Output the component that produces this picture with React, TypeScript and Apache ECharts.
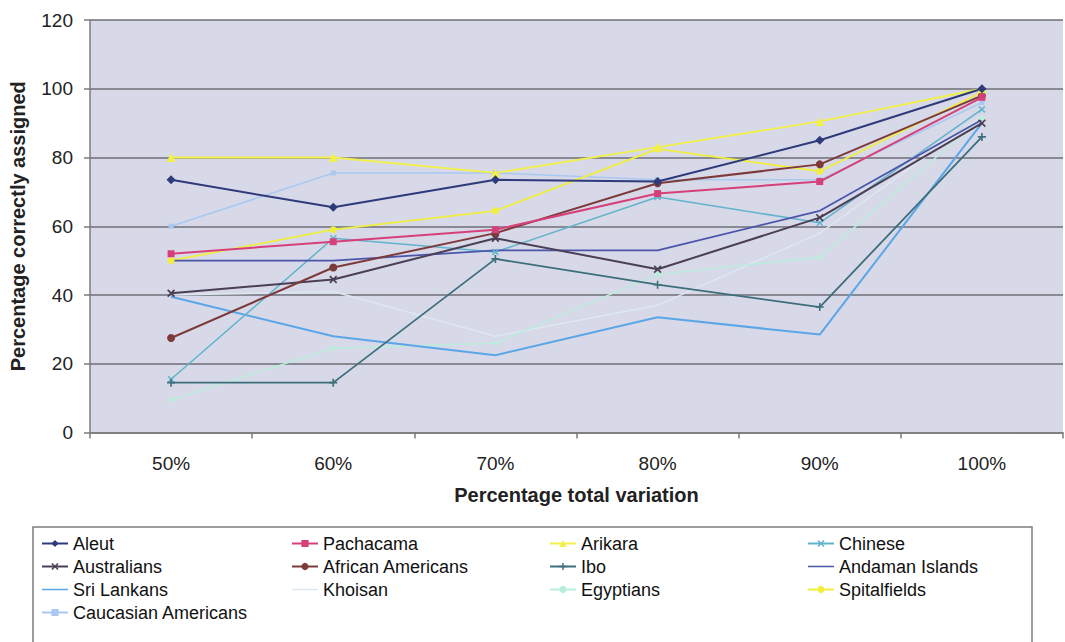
import React, { useEffect, useRef } from "react";
import * as echarts from "echarts";

const categories = ["50%", "60%", "70%", "80%", "90%", "100%"];
const yTicks = { min: 0, max: 120, step: 20 };

const aleut = [73.5, 65.5, 73.5, 73, 85, 100];
const pachacama = [52, 55.5, 59, 69.5, 73, 97.5];
const arikara = [80, 80, 75.5, 83, 90.5, 100];
const chinese = [15.5, 56.5, 52.5, 68.5, 61, 94];
const australians = [40.5, 44.5, 56.5, 47.5, 62.5, 90];
const africanAmericans = [27.5, 48, 58, 72.5, 78, 98];
const ibo = [14.5, 14.5, 50.5, 43, 36.5, 86];
const andamanIslands = [50, 50, 53, 53, 64.5, 91];
const sriLankans = [39.5, 28, 22.5, 33.5, 28.5, 90];
const khoisan = [40, 41, 28, 37, 58, 92];
const egyptians = [9.5, 24.5, 26, 46, 51, 91.5];
const spitalfields = [50, 59, 64.5, 82.5, 76, 99];
const caucasianAmericans = [60, 75.5, 75.5, 73.5, 73.5, 96];

const seriesNames = [
  "Aleut", "Pachacama", "Arikara", "Chinese",
  "Australians", "African Americans", "Ibo", "Andaman Islands",
  "Sri Lankans", "Khoisan", "Egyptians", "Spitalfields",
  "Caucasian Americans",
];
const lineOnlyNames = ["Andaman Islands", "Sri Lankans", "Khoisan"];

const FONT = "'Liberation Sans', Arial, Helvetica, sans-serif";
const X_PATH = "path://M0,1.5L1.5,0L5,3.5L8.5,0L10,1.5L6.5,5L10,8.5L8.5,10L5,6.5L1.5,10L0,8.5L3.5,5Z";
const PLUS_PATH = "path://M4,0H6V4H10V6H6V10H4V6H0V4H4Z";
const LINE_ICON = "path://M0,0H52V3H0Z";

export default function App() {
  const ref = useRef<HTMLDivElement>(null);

  useEffect(() => {
    if (!ref.current) return;
    const chart = echarts.init(ref.current, null, { renderer: "svg" });

    const mk = (name: string, data: number[], color: string, symbol: string, size: number, width: number) => ({
      name,
      type: "line",
      data,
      symbol,
      symbolSize: size,
      showSymbol: symbol !== "none",
      lineStyle: { color, width },
      itemStyle: { color },
      emphasis: { disabled: true },
    });

    const series = [
      mk("Khoisan", khoisan, "#dde8f0", "none", 0, 1.5),
      mk("Egyptians", egyptians, "#b9eedb", "circle", 5, 1.5),
      mk("Caucasian Americans", caucasianAmericans, "#a9c9f0", "rect", 5, 1.5),
      mk("Spitalfields", spitalfields, "#f0ef3e", "circle", 7, 1.8),
      mk("Sri Lankans", sriLankans, "#5ba6e6", "none", 0, 2),
      mk("Chinese", chinese, "#62b4cc", X_PATH, 7, 1.5),
      mk("Ibo", ibo, "#3d6e7c", PLUS_PATH, 8, 1.8),
      mk("Andaman Islands", andamanIslands, "#4c55aa", "none", 0, 1.8),
      mk("Australians", australians, "#4b3f55", X_PATH, 8, 2),
      mk("African Americans", africanAmericans, "#7d3a3a", "circle", 8, 2),
      mk("Pachacama", pachacama, "#d6407a", "rect", 7, 2),
      mk("Arikara", arikara, "#f2f04a", "triangle", 9, 1.8),
      mk("Aleut", aleut, "#2e3a7a", "diamond", 9, 2),
    ];

    const colLefts = [41, 291, 549, 807];
    const legends = colLefts.map((left, c) => ({
      orient: "vertical",
      left,
      top: 532,
      padding: 0,
      itemGap: 0,
      itemWidth: 26,
      itemHeight: 9,
      symbolKeepAspect: true,
      selectedMode: false,
      data: seriesNames
        .filter((_, i) => i % 4 === c)
        .map((n) => (lineOnlyNames.includes(n) ? { name: n, icon: LINE_ICON } : { name: n })),
      textStyle: { fontSize: 18, color: "#111", fontFamily: FONT, lineHeight: 23 },
    }));

    chart.setOption({
      animation: false,
      backgroundColor: "#ffffff",
      textStyle: { fontFamily: FONT },
      grid: {
        left: 90,
        right: 2,
        top: 20,
        bottom: 209.5,
        show: true,
        backgroundColor: "#d7d8e8",
        borderWidth: 0,
      },
      graphic: [
        {
          type: "rect",
          z: 0,
          shape: { x: 33, y: 527, width: 999, height: 140 },
          style: { fill: "#ffffff", stroke: "#7d7d7d", lineWidth: 1.5 },
        },
      ],
      legend: legends,
      xAxis: {
        type: "category",
        data: categories,
        boundaryGap: true,
        axisLine: { lineStyle: { color: "#7c7c7c", width: 1.5 } },
        axisTick: { show: true, length: 6, lineStyle: { color: "#7c7c7c", width: 1.5 } },
        axisLabel: { fontSize: 19, color: "#222", margin: 21, fontFamily: FONT },
        name: "Percentage total variation",
        nameLocation: "middle",
        nameGap: 52,
        nameTextStyle: { fontSize: 20, fontWeight: "bold", color: "#222", fontFamily: FONT },
      },
      yAxis: {
        type: "value",
        min: yTicks.min,
        max: yTicks.max,
        interval: yTicks.step,
        axisLine: { show: true, lineStyle: { color: "#7c7c7c", width: 1.5 } },
        axisTick: { show: true, length: 6, lineStyle: { color: "#7c7c7c", width: 1.5 } },
        axisLabel: { fontSize: 19, color: "#222", margin: 17, fontFamily: FONT },
        splitLine: { show: true, lineStyle: { color: "#6f6f78", width: 1.5 } },
        name: "Percentage correctly assigned",
        nameLocation: "middle",
        nameGap: 62,
        nameTextStyle: { fontSize: 20, fontWeight: "bold", color: "#222", fontFamily: FONT },
      },
      series,
    });

    return () => chart.dispose();
  }, []);

  return (
    <div
      ref={ref}
      style={{ position: "absolute", left: 0, top: 0, width: 1065, height: 642 }}
    />
  );
}
